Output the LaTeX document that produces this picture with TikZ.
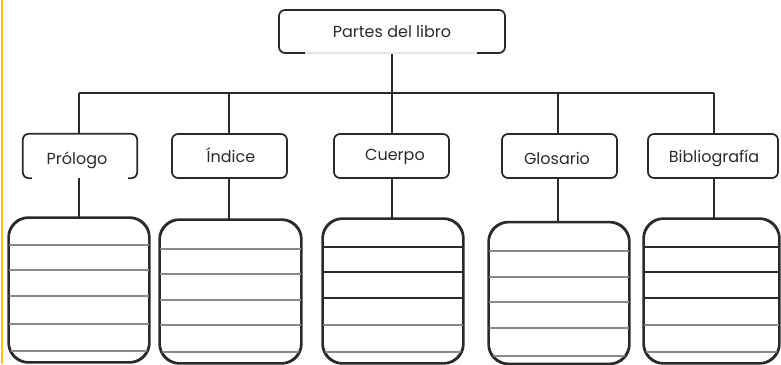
\documentclass[tikz,border=0pt]{standalone}
\usepackage{fontspec}
\setmainfont{Poppins}
\definecolor{ink}{HTML}{2A2A2A}
\definecolor{rule}{HTML}{8A8A8A}
\definecolor{stripe}{HTML}{FFC400}
\begin{document}
\begin{tikzpicture}[x=1pt,y=-1pt,
  label/.style={font=\fontsize{16}{18}\selectfont, text=ink},
  topbox/.style={draw=ink, line width=1.7pt, rounded corners=6pt, minimum width=226pt, minimum height=43pt, label},
  catbox/.style={draw=ink, line width=1.7pt, rounded corners=6pt, minimum height=44pt, label},
  bracketbox/.style={minimum height=44pt, label},
  notebox/.style={draw=ink, line width=1.7pt, rounded corners=20pt, inner sep=0pt},
  conn/.style={draw=ink, line width=1.3pt},
  ruleline/.style={draw=rule, line width=1.2pt},
  darkline/.style={draw=ink, line width=1.2pt}]
\useasboundingbox (0,0) rectangle (781,364);
\fill[stripe] (0.5,0) rectangle (3,364);

% top
\node[topbox] (top) at (392,31.5) {Partes del libro};
\draw[draw=white!80!gray, line width=1.2pt] (305,52.9) -- (477,52.9);

% categories
\node[bracketbox, minimum width=114pt] (c1) at (80,156) {};
\node[label] (c1t) at (77,160) {Prólogo};
\draw[ink, line width=1.7pt, rounded corners=6pt]
  ([xshift=9pt]c1.south west) -- (c1.south west) -- (c1.north west) -- (c1.north east) -- (c1.south east) -- ([xshift=-9pt]c1.south east);
\node[catbox, minimum width=115pt] (c2) at (229.5,156) {};
\node[label] (c2t) at (231,155) {Índice};
\node[catbox, minimum width=115pt] (c3) at (391.5,156) {};
\node[label] (c3t) at (395,157) {Cuerpo};
\node[catbox, minimum width=115pt] (c4) at (559.5,156) {};
\node[label] (c4t) at (557,158) {Glosario};
\node[catbox, minimum width=130pt] (c5) at (713,156) {};
\node[label] (c5t) at (714,158) {Bibliografía};

% bus
\coordinate (busL) at (79,93);
\coordinate (busR) at (714,93);
\draw[conn] (busL) -- (busR);
\draw[conn] (top.south) -- (top.south |- busL);
\draw[conn] (busL) -- (busL |- c1.north);
\draw[conn] (229,93) -- (229,134);
\draw[conn] (392,93) -- (392,134);
\draw[conn] (558,93) -- (558,134);
\draw[conn] (busR) -- (busR |- c5.north);

% note boxes
\node[notebox, minimum width=140pt, minimum height=144pt] (n1) at (79,290) {};
\node[notebox, minimum width=141pt, minimum height=143pt] (n2) at (230.5,291.5) {};
\node[notebox, minimum width=140pt, minimum height=144pt] (n3) at (393,291) {};
\node[notebox, minimum width=140pt, minimum height=141pt] (n4) at (559,293) {};
\node[notebox, minimum width=135pt, minimum height=144pt] (n5) at (711.5,291) {};

\draw[conn] (79,178) -- (n1.north -| 79,0);
\draw[conn] (229,178) -- (229,220);
\draw[conn] (392,178) -- (392,219);
\draw[conn] (558,178) -- (558,223);
\draw[conn] (714,178) -- (714,219);

% ruled lines
\begin{scope}
\clip[rounded corners=20pt] (n1.south west) rectangle (n1.north east);
\foreach \y in {245,270,296,324,351} \draw[ruleline] (9,\y) -- (149,\y);
\end{scope}
\begin{scope}
\clip[rounded corners=20pt] (n2.south west) rectangle (n2.north east);
\foreach \y in {249,274,300,325,352} \draw[ruleline] (160,\y) -- (301,\y);
\end{scope}
\begin{scope}
\clip[rounded corners=20pt] (n3.south west) rectangle (n3.north east);
\foreach \y in {247,272,298} \draw[darkline] (323,\y) -- (463,\y);
\foreach \y in {325,352} \draw[ruleline] (323,\y) -- (463,\y);
\end{scope}
\begin{scope}
\clip[rounded corners=20pt] (n4.south west) rectangle (n4.north east);
\foreach \y in {251,277,302,328,356} \draw[ruleline] (489,\y) -- (629,\y);
\end{scope}
\begin{scope}
\clip[rounded corners=20pt] (n5.south west) rectangle (n5.north east);
\foreach \y in {247,272,298} \draw[darkline] (644,\y) -- (779,\y);
\foreach \y in {325,352} \draw[ruleline] (644,\y) -- (779,\y);
\end{scope}
\foreach \n in {n1,n2,n3,n4,n5} \draw[ink, line width=1.7pt, rounded corners=20pt] (\n.south west) rectangle (\n.north east);
\end{tikzpicture}
\end{document}
